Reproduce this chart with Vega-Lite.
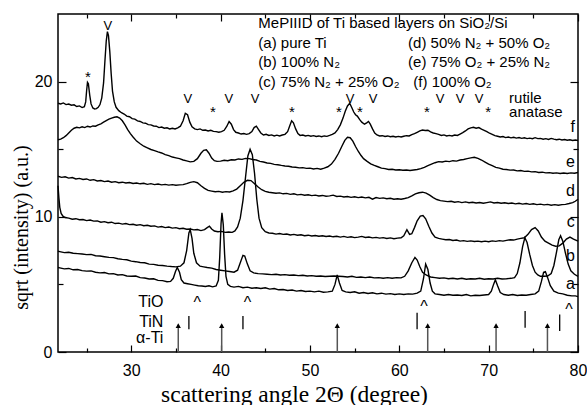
{
"$schema":"https://vega.github.io/schema/vega-lite/v6.json",
"width":520,"height":338,
"autosize":{"type":"none"},
"padding":{"left":58,"top":14,"right":9,"bottom":53},
"config":{"view":{"stroke":"black","strokeWidth":1.5},
"axis":{"tickColor":"black","tickWidth":1.2,"labelColor":"black","labelFont":"Liberation Sans","labelFontSize":16,"titleFont":"Liberation Serif","titleFontSize":21,"titleFontWeight":"normal","titleColor":"black","grid":false,"domain":false,"labelOverlap":false,"labelBound":false,"labelFlush":false}},
"datasets":{
"curves":[
{"c":"a","x":21.8,"y":6.25},{"c":"a","x":22,"y":6.22},{"c":"a","x":22.5,"y":6.15},{"c":"a","x":23,"y":6.18},{"c":"a","x":23.5,"y":6.08},{"c":"a","x":24,"y":6.1},{"c":"a","x":24.5,"y":6.02},{"c":"a","x":25,"y":5.98},{"c":"a","x":25.5,"y":6.0},{"c":"a","x":26,"y":5.9},{"c":"a","x":26.5,"y":5.85},{"c":"a","x":27,"y":5.88},{"c":"a","x":27.5,"y":5.78},{"c":"a","x":28,"y":5.8},{"c":"a","x":28.5,"y":5.7},{"c":"a","x":29,"y":5.72},{"c":"a","x":29.5,"y":5.62},{"c":"a","x":30,"y":5.6},{"c":"a","x":30.5,"y":5.62},{"c":"a","x":31,"y":5.5},{"c":"a","x":31.5,"y":5.47},{"c":"a","x":32,"y":5.4},{"c":"a","x":32.5,"y":5.42},{"c":"a","x":33,"y":5.3},{"c":"a","x":33.5,"y":5.28},{"c":"a","x":34,"y":5.2},{"c":"a","x":34.4,"y":5.22},{"c":"a","x":34.7,"y":5.45},{"c":"a","x":34.95,"y":5.95},{"c":"a","x":35.15,"y":6.25},{"c":"a","x":35.4,"y":5.9},{"c":"a","x":35.6,"y":5.35},{"c":"a","x":35.9,"y":5.1},{"c":"a","x":36.3,"y":5.05},{"c":"a","x":36.7,"y":5.0},{"c":"a","x":37.1,"y":4.95},{"c":"a","x":37.5,"y":4.9},{"c":"a","x":37.9,"y":4.88},{"c":"a","x":38.3,"y":4.85},{"c":"a","x":38.7,"y":4.9},{"c":"a","x":39.1,"y":4.82},{"c":"a","x":39.5,"y":4.88},{"c":"a","x":39.75,"y":5.3},{"c":"a","x":39.9,"y":7.0},{"c":"a","x":40.05,"y":9.5},{"c":"a","x":40.15,"y":10.3},{"c":"a","x":40.3,"y":9.4},{"c":"a","x":40.45,"y":7.2},{"c":"a","x":40.6,"y":5.6},{"c":"a","x":40.8,"y":5.0},{"c":"a","x":41.1,"y":4.85},{"c":"a","x":41.5,"y":4.8},{"c":"a","x":42,"y":4.85},{"c":"a","x":42.5,"y":4.75},{"c":"a","x":43,"y":4.8},{"c":"a","x":43.5,"y":4.72},{"c":"a","x":44,"y":4.75},{"c":"a","x":44.5,"y":4.7},{"c":"a","x":45,"y":4.75},{"c":"a","x":45.5,"y":4.65},{"c":"a","x":46,"y":4.7},{"c":"a","x":46.5,"y":4.6},{"c":"a","x":47,"y":4.62},{"c":"a","x":47.5,"y":4.55},{"c":"a","x":48,"y":4.58},{"c":"a","x":48.5,"y":4.5},{"c":"a","x":49,"y":4.55},{"c":"a","x":49.5,"y":4.48},{"c":"a","x":50,"y":4.5},{"c":"a","x":50.5,"y":4.45},{"c":"a","x":51,"y":4.5},{"c":"a","x":51.5,"y":4.42},{"c":"a","x":52,"y":4.45},{"c":"a","x":52.5,"y":4.5},{"c":"a","x":52.8,"y":5.0},{"c":"a","x":53.05,"y":5.7},{"c":"a","x":53.3,"y":5.1},{"c":"a","x":53.6,"y":4.55},{"c":"a","x":54,"y":4.45},{"c":"a","x":54.5,"y":4.4},{"c":"a","x":55,"y":4.45},{"c":"a","x":55.5,"y":4.35},{"c":"a","x":56,"y":4.4},{"c":"a","x":56.5,"y":4.33},{"c":"a","x":57,"y":4.38},{"c":"a","x":57.5,"y":4.3},{"c":"a","x":58,"y":4.35},{"c":"a","x":58.5,"y":4.28},{"c":"a","x":59,"y":4.32},{"c":"a","x":59.5,"y":4.25},{"c":"a","x":60,"y":4.3},{"c":"a","x":60.5,"y":4.25},{"c":"a","x":61,"y":4.3},{"c":"a","x":61.5,"y":4.28},{"c":"a","x":62,"y":4.35},{"c":"a","x":62.4,"y":4.5},{"c":"a","x":62.7,"y":5.4},{"c":"a","x":62.95,"y":6.5},{"c":"a","x":63.2,"y":6.1},{"c":"a","x":63.45,"y":5.1},{"c":"a","x":63.7,"y":4.5},{"c":"a","x":64,"y":4.3},{"c":"a","x":64.5,"y":4.25},{"c":"a","x":65,"y":4.2},{"c":"a","x":65.5,"y":4.25},{"c":"a","x":66,"y":4.2},{"c":"a","x":66.5,"y":4.22},{"c":"a","x":67,"y":4.18},{"c":"a","x":67.5,"y":4.25},{"c":"a","x":68,"y":4.15},{"c":"a","x":68.5,"y":4.2},{"c":"a","x":69,"y":4.18},{"c":"a","x":69.5,"y":4.22},{"c":"a","x":70,"y":4.25},{"c":"a","x":70.3,"y":4.5},{"c":"a","x":70.55,"y":5.0},{"c":"a","x":70.75,"y":5.35},{"c":"a","x":71.0,"y":4.9},{"c":"a","x":71.3,"y":4.4},{"c":"a","x":71.7,"y":4.25},{"c":"a","x":72.2,"y":4.2},{"c":"a","x":72.7,"y":4.25},{"c":"a","x":73.2,"y":4.18},{"c":"a","x":73.7,"y":4.22},{"c":"a","x":74.2,"y":4.2},{"c":"a","x":74.7,"y":4.25},{"c":"a","x":75.2,"y":4.3},{"c":"a","x":75.6,"y":4.5},{"c":"a","x":75.9,"y":5.2},{"c":"a","x":76.15,"y":5.9},{"c":"a","x":76.35,"y":5.95},{"c":"a","x":76.6,"y":5.5},{"c":"a","x":76.9,"y":4.9},{"c":"a","x":77.3,"y":4.5},{"c":"a","x":77.8,"y":4.35},{"c":"a","x":78.3,"y":4.3},{"c":"a","x":78.8,"y":4.2},{"c":"a","x":79.3,"y":4.15},{"c":"a","x":79.7,"y":4.15},{"c":"a","x":80,"y":4.1},
{"c":"b","x":21.8,"y":7.45},{"c":"b","x":22,"y":7.42},{"c":"b","x":22.5,"y":7.35},{"c":"b","x":23,"y":7.38},{"c":"b","x":23.5,"y":7.3},{"c":"b","x":24,"y":7.28},{"c":"b","x":24.5,"y":7.25},{"c":"b","x":25,"y":7.2},{"c":"b","x":25.5,"y":7.22},{"c":"b","x":26,"y":7.12},{"c":"b","x":26.5,"y":7.1},{"c":"b","x":27,"y":7.05},{"c":"b","x":27.5,"y":7.0},{"c":"b","x":28,"y":6.98},{"c":"b","x":28.5,"y":6.9},{"c":"b","x":29,"y":6.85},{"c":"b","x":29.5,"y":6.82},{"c":"b","x":30,"y":6.72},{"c":"b","x":30.5,"y":6.68},{"c":"b","x":31,"y":6.62},{"c":"b","x":31.5,"y":6.6},{"c":"b","x":32,"y":6.5},{"c":"b","x":32.5,"y":6.48},{"c":"b","x":33,"y":6.42},{"c":"b","x":33.5,"y":6.4},{"c":"b","x":34,"y":6.35},{"c":"b","x":34.5,"y":6.32},{"c":"b","x":35,"y":6.3},{"c":"b","x":35.5,"y":6.35},{"c":"b","x":35.9,"y":6.6},{"c":"b","x":36.2,"y":7.5},{"c":"b","x":36.45,"y":8.8},{"c":"b","x":36.6,"y":9.05},{"c":"b","x":36.8,"y":8.4},{"c":"b","x":37.0,"y":7.3},{"c":"b","x":37.3,"y":6.6},{"c":"b","x":37.7,"y":6.35},{"c":"b","x":38.1,"y":6.3},{"c":"b","x":38.5,"y":6.25},{"c":"b","x":39,"y":6.2},{"c":"b","x":39.5,"y":6.1},{"c":"b","x":40,"y":6.05},{"c":"b","x":40.5,"y":6.0},{"c":"b","x":41,"y":5.95},{"c":"b","x":41.5,"y":5.9},{"c":"b","x":41.9,"y":6.05},{"c":"b","x":42.2,"y":6.6},{"c":"b","x":42.5,"y":7.15},{"c":"b","x":42.7,"y":7.1},{"c":"b","x":43.0,"y":6.5},{"c":"b","x":43.3,"y":6.0},{"c":"b","x":43.7,"y":5.85},{"c":"b","x":44.2,"y":5.8},{"c":"b","x":44.7,"y":5.78},{"c":"b","x":45.2,"y":5.75},{"c":"b","x":45.7,"y":5.72},{"c":"b","x":46.2,"y":5.75},{"c":"b","x":46.7,"y":5.7},{"c":"b","x":47.2,"y":5.72},{"c":"b","x":47.7,"y":5.68},{"c":"b","x":48.2,"y":5.7},{"c":"b","x":48.7,"y":5.65},{"c":"b","x":49.2,"y":5.68},{"c":"b","x":49.7,"y":5.62},{"c":"b","x":50.2,"y":5.65},{"c":"b","x":50.7,"y":5.6},{"c":"b","x":51.2,"y":5.62},{"c":"b","x":51.7,"y":5.58},{"c":"b","x":52.2,"y":5.6},{"c":"b","x":52.7,"y":5.62},{"c":"b","x":53.2,"y":5.6},{"c":"b","x":53.7,"y":5.58},{"c":"b","x":54.2,"y":5.55},{"c":"b","x":54.7,"y":5.6},{"c":"b","x":55.2,"y":5.52},{"c":"b","x":55.7,"y":5.55},{"c":"b","x":56.2,"y":5.5},{"c":"b","x":56.7,"y":5.55},{"c":"b","x":57.2,"y":5.48},{"c":"b","x":57.7,"y":5.5},{"c":"b","x":58.2,"y":5.45},{"c":"b","x":58.7,"y":5.5},{"c":"b","x":59.2,"y":5.45},{"c":"b","x":59.7,"y":5.5},{"c":"b","x":60.2,"y":5.48},{"c":"b","x":60.6,"y":5.6},{"c":"b","x":61.0,"y":6.0},{"c":"b","x":61.4,"y":6.6},{"c":"b","x":61.75,"y":7.0},{"c":"b","x":62.0,"y":6.8},{"c":"b","x":62.3,"y":6.3},{"c":"b","x":62.6,"y":5.9},{"c":"b","x":63.0,"y":5.7},{"c":"b","x":63.5,"y":5.55},{"c":"b","x":64,"y":5.5},{"c":"b","x":64.5,"y":5.45},{"c":"b","x":65,"y":5.48},{"c":"b","x":65.5,"y":5.42},{"c":"b","x":66,"y":5.45},{"c":"b","x":66.5,"y":5.4},{"c":"b","x":67,"y":5.45},{"c":"b","x":67.5,"y":5.38},{"c":"b","x":68,"y":5.42},{"c":"b","x":68.5,"y":5.4},{"c":"b","x":69,"y":5.45},{"c":"b","x":69.5,"y":5.38},{"c":"b","x":70,"y":5.42},{"c":"b","x":70.5,"y":5.4},{"c":"b","x":71,"y":5.45},{"c":"b","x":71.5,"y":5.4},{"c":"b","x":72,"y":5.42},{"c":"b","x":72.5,"y":5.45},{"c":"b","x":72.9,"y":5.5},{"c":"b","x":73.2,"y":5.8},{"c":"b","x":73.5,"y":6.6},{"c":"b","x":73.8,"y":7.8},{"c":"b","x":74.05,"y":8.45},{"c":"b","x":74.3,"y":8.1},{"c":"b","x":74.6,"y":7.2},{"c":"b","x":74.9,"y":6.4},{"c":"b","x":75.2,"y":5.9},{"c":"b","x":75.5,"y":5.7},{"c":"b","x":75.8,"y":5.6},{"c":"b","x":76.2,"y":5.6},{"c":"b","x":76.6,"y":5.62},{"c":"b","x":77.0,"y":5.8},{"c":"b","x":77.3,"y":6.4},{"c":"b","x":77.6,"y":7.4},{"c":"b","x":77.85,"y":8.3},{"c":"b","x":78.05,"y":8.6},{"c":"b","x":78.3,"y":8.2},{"c":"b","x":78.6,"y":7.3},{"c":"b","x":78.9,"y":6.5},{"c":"b","x":79.2,"y":6.0},{"c":"b","x":79.6,"y":5.75},{"c":"b","x":80,"y":5.6},
{"c":"c","x":21.8,"y":12.3},{"c":"c","x":21.9,"y":11.4},{"c":"c","x":22.0,"y":10.7},{"c":"c","x":22.15,"y":10.25},{"c":"c","x":22.35,"y":10.05},{"c":"c","x":22.6,"y":9.95},{"c":"c","x":23.0,"y":9.9},{"c":"c","x":23.4,"y":9.82},{"c":"c","x":23.8,"y":9.86},{"c":"c","x":24.2,"y":9.78},{"c":"c","x":24.6,"y":9.8},{"c":"c","x":25.0,"y":9.72},{"c":"c","x":25.4,"y":9.76},{"c":"c","x":25.8,"y":9.68},{"c":"c","x":26.2,"y":9.7},{"c":"c","x":26.6,"y":9.6},{"c":"c","x":27.0,"y":9.64},{"c":"c","x":27.4,"y":9.56},{"c":"c","x":27.8,"y":9.6},{"c":"c","x":28.2,"y":9.5},{"c":"c","x":28.6,"y":9.53},{"c":"c","x":29.0,"y":9.46},{"c":"c","x":29.4,"y":9.5},{"c":"c","x":29.8,"y":9.42},{"c":"c","x":30.2,"y":9.45},{"c":"c","x":30.6,"y":9.38},{"c":"c","x":31.0,"y":9.42},{"c":"c","x":31.4,"y":9.34},{"c":"c","x":31.8,"y":9.37},{"c":"c","x":32.2,"y":9.3},{"c":"c","x":32.6,"y":9.33},{"c":"c","x":33.0,"y":9.24},{"c":"c","x":33.4,"y":9.28},{"c":"c","x":33.8,"y":9.2},{"c":"c","x":34.2,"y":9.24},{"c":"c","x":34.6,"y":9.16},{"c":"c","x":35.0,"y":9.2},{"c":"c","x":35.4,"y":9.12},{"c":"c","x":35.8,"y":9.15},{"c":"c","x":36.2,"y":9.08},{"c":"c","x":36.6,"y":9.1},{"c":"c","x":37.0,"y":9.03},{"c":"c","x":37.4,"y":9.06},{"c":"c","x":37.8,"y":8.98},{"c":"c","x":38.2,"y":9.05},{"c":"c","x":38.5,"y":9.2},{"c":"c","x":38.75,"y":9.3},{"c":"c","x":39.0,"y":9.1},{"c":"c","x":39.3,"y":8.95},{"c":"c","x":39.7,"y":8.9},{"c":"c","x":40.1,"y":8.92},{"c":"c","x":40.5,"y":8.85},{"c":"c","x":40.9,"y":8.88},{"c":"c","x":41.3,"y":8.85},{"c":"c","x":41.6,"y":8.95},{"c":"c","x":41.9,"y":9.25},{"c":"c","x":42.2,"y":9.9},{"c":"c","x":42.5,"y":11.2},{"c":"c","x":42.8,"y":13.0},{"c":"c","x":43.05,"y":14.5},{"c":"c","x":43.3,"y":15.0},{"c":"c","x":43.55,"y":14.6},{"c":"c","x":43.8,"y":13.2},{"c":"c","x":44.05,"y":11.3},{"c":"c","x":44.3,"y":9.9},{"c":"c","x":44.6,"y":9.2},{"c":"c","x":45.0,"y":8.9},{"c":"c","x":45.4,"y":8.8},{"c":"c","x":45.8,"y":8.78},{"c":"c","x":46.2,"y":8.72},{"c":"c","x":46.6,"y":8.76},{"c":"c","x":47.0,"y":8.7},{"c":"c","x":47.4,"y":8.73},{"c":"c","x":47.8,"y":8.66},{"c":"c","x":48.2,"y":8.7},{"c":"c","x":48.6,"y":8.64},{"c":"c","x":49.0,"y":8.67},{"c":"c","x":49.4,"y":8.6},{"c":"c","x":49.8,"y":8.64},{"c":"c","x":50.2,"y":8.58},{"c":"c","x":50.6,"y":8.62},{"c":"c","x":51.0,"y":8.56},{"c":"c","x":51.4,"y":8.6},{"c":"c","x":51.8,"y":8.54},{"c":"c","x":52.2,"y":8.58},{"c":"c","x":52.6,"y":8.52},{"c":"c","x":53.0,"y":8.56},{"c":"c","x":53.4,"y":8.5},{"c":"c","x":53.8,"y":8.55},{"c":"c","x":54.2,"y":8.48},{"c":"c","x":54.6,"y":8.52},{"c":"c","x":55.0,"y":8.46},{"c":"c","x":55.4,"y":8.5},{"c":"c","x":55.8,"y":8.55},{"c":"c","x":56.2,"y":8.47},{"c":"c","x":56.6,"y":8.5},{"c":"c","x":57.0,"y":8.44},{"c":"c","x":57.4,"y":8.48},{"c":"c","x":57.8,"y":8.42},{"c":"c","x":58.2,"y":8.46},{"c":"c","x":58.6,"y":8.4},{"c":"c","x":59.0,"y":8.44},{"c":"c","x":59.4,"y":8.38},{"c":"c","x":59.8,"y":8.42},{"c":"c","x":60.2,"y":8.45},{"c":"c","x":60.5,"y":8.6},{"c":"c","x":60.85,"y":9.05},{"c":"c","x":61.15,"y":8.7},{"c":"c","x":61.4,"y":8.75},{"c":"c","x":61.7,"y":9.2},{"c":"c","x":62.0,"y":9.7},{"c":"c","x":62.35,"y":10.05},{"c":"c","x":62.65,"y":10.1},{"c":"c","x":62.95,"y":9.85},{"c":"c","x":63.3,"y":9.3},{"c":"c","x":63.65,"y":8.8},{"c":"c","x":64.0,"y":8.5},{"c":"c","x":64.4,"y":8.4},{"c":"c","x":64.8,"y":8.35},{"c":"c","x":65.2,"y":8.3},{"c":"c","x":65.6,"y":8.32},{"c":"c","x":66.0,"y":8.25},{"c":"c","x":66.4,"y":8.28},{"c":"c","x":66.8,"y":8.2},{"c":"c","x":67.2,"y":8.24},{"c":"c","x":67.6,"y":8.18},{"c":"c","x":68.0,"y":8.22},{"c":"c","x":68.4,"y":8.17},{"c":"c","x":68.8,"y":8.2},{"c":"c","x":69.2,"y":8.15},{"c":"c","x":69.6,"y":8.2},{"c":"c","x":70.0,"y":8.16},{"c":"c","x":70.4,"y":8.22},{"c":"c","x":70.8,"y":8.18},{"c":"c","x":71.2,"y":8.24},{"c":"c","x":71.6,"y":8.2},{"c":"c","x":72.0,"y":8.26},{"c":"c","x":72.4,"y":8.3},{"c":"c","x":72.8,"y":8.28},{"c":"c","x":73.2,"y":8.35},{"c":"c","x":73.6,"y":8.4},{"c":"c","x":74.0,"y":8.45},{"c":"c","x":74.4,"y":8.7},{"c":"c","x":74.8,"y":9.05},{"c":"c","x":75.2,"y":9.2},{"c":"c","x":75.55,"y":8.95},{"c":"c","x":75.9,"y":8.5},{"c":"c","x":76.3,"y":8.2},{"c":"c","x":76.7,"y":8.05},{"c":"c","x":77.1,"y":7.9},{"c":"c","x":77.5,"y":7.82},{"c":"c","x":77.9,"y":7.85},{"c":"c","x":78.3,"y":8.05},{"c":"c","x":78.7,"y":8.35},{"c":"c","x":79.1,"y":8.5},{"c":"c","x":79.5,"y":8.35},{"c":"c","x":80.0,"y":8.2},
{"c":"d","x":21.8,"y":13.0},{"c":"d","x":22.2,"y":12.92},{"c":"d","x":22.6,"y":12.96},{"c":"d","x":23.0,"y":12.86},{"c":"d","x":23.4,"y":12.9},{"c":"d","x":23.8,"y":12.8},{"c":"d","x":24.2,"y":12.84},{"c":"d","x":24.6,"y":12.76},{"c":"d","x":25.0,"y":12.8},{"c":"d","x":25.4,"y":12.7},{"c":"d","x":25.8,"y":12.75},{"c":"d","x":26.2,"y":12.65},{"c":"d","x":26.6,"y":12.68},{"c":"d","x":27.0,"y":12.6},{"c":"d","x":27.4,"y":12.65},{"c":"d","x":27.8,"y":12.56},{"c":"d","x":28.2,"y":12.6},{"c":"d","x":28.6,"y":12.52},{"c":"d","x":29.0,"y":12.56},{"c":"d","x":29.4,"y":12.5},{"c":"d","x":29.8,"y":12.54},{"c":"d","x":30.2,"y":12.46},{"c":"d","x":30.6,"y":12.5},{"c":"d","x":31.0,"y":12.44},{"c":"d","x":31.4,"y":12.48},{"c":"d","x":31.8,"y":12.4},{"c":"d","x":32.2,"y":12.45},{"c":"d","x":32.6,"y":12.38},{"c":"d","x":33.0,"y":12.42},{"c":"d","x":33.4,"y":12.36},{"c":"d","x":33.8,"y":12.4},{"c":"d","x":34.2,"y":12.34},{"c":"d","x":34.6,"y":12.38},{"c":"d","x":35.0,"y":12.33},{"c":"d","x":35.4,"y":12.36},{"c":"d","x":35.8,"y":12.38},{"c":"d","x":36.2,"y":12.45},{"c":"d","x":36.6,"y":12.55},{"c":"d","x":37.0,"y":12.6},{"c":"d","x":37.4,"y":12.52},{"c":"d","x":37.8,"y":12.3},{"c":"d","x":38.2,"y":12.1},{"c":"d","x":38.6,"y":11.95},{"c":"d","x":39.0,"y":11.9},{"c":"d","x":39.4,"y":11.85},{"c":"d","x":39.8,"y":11.88},{"c":"d","x":40.2,"y":11.82},{"c":"d","x":40.6,"y":11.86},{"c":"d","x":41.0,"y":11.84},{"c":"d","x":41.4,"y":11.92},{"c":"d","x":41.8,"y":12.05},{"c":"d","x":42.2,"y":12.3},{"c":"d","x":42.6,"y":12.55},{"c":"d","x":43.0,"y":12.7},{"c":"d","x":43.4,"y":12.68},{"c":"d","x":43.8,"y":12.45},{"c":"d","x":44.2,"y":12.2},{"c":"d","x":44.6,"y":12.0},{"c":"d","x":45.0,"y":11.88},{"c":"d","x":45.4,"y":11.82},{"c":"d","x":45.8,"y":11.78},{"c":"d","x":46.2,"y":11.74},{"c":"d","x":46.6,"y":11.77},{"c":"d","x":47.0,"y":11.7},{"c":"d","x":47.4,"y":11.73},{"c":"d","x":47.8,"y":11.66},{"c":"d","x":48.2,"y":11.7},{"c":"d","x":48.6,"y":11.62},{"c":"d","x":49.0,"y":11.66},{"c":"d","x":49.4,"y":11.6},{"c":"d","x":49.8,"y":11.63},{"c":"d","x":50.2,"y":11.57},{"c":"d","x":50.6,"y":11.6},{"c":"d","x":51.0,"y":11.54},{"c":"d","x":51.4,"y":11.58},{"c":"d","x":51.8,"y":11.52},{"c":"d","x":52.2,"y":11.55},{"c":"d","x":52.6,"y":11.6},{"c":"d","x":53.0,"y":11.5},{"c":"d","x":53.4,"y":11.53},{"c":"d","x":53.8,"y":11.47},{"c":"d","x":54.2,"y":11.5},{"c":"d","x":54.6,"y":11.44},{"c":"d","x":55.0,"y":11.48},{"c":"d","x":55.4,"y":11.42},{"c":"d","x":55.8,"y":11.46},{"c":"d","x":56.2,"y":11.4},{"c":"d","x":56.6,"y":11.44},{"c":"d","x":57.0,"y":11.3},{"c":"d","x":57.4,"y":11.42},{"c":"d","x":57.8,"y":11.36},{"c":"d","x":58.2,"y":11.4},{"c":"d","x":58.6,"y":11.34},{"c":"d","x":59.0,"y":11.37},{"c":"d","x":59.4,"y":11.3},{"c":"d","x":59.8,"y":11.34},{"c":"d","x":60.2,"y":11.3},{"c":"d","x":60.6,"y":11.35},{"c":"d","x":61.0,"y":11.42},{"c":"d","x":61.4,"y":11.55},{"c":"d","x":61.8,"y":11.7},{"c":"d","x":62.2,"y":11.78},{"c":"d","x":62.6,"y":11.82},{"c":"d","x":63.0,"y":11.75},{"c":"d","x":63.4,"y":11.6},{"c":"d","x":63.8,"y":11.42},{"c":"d","x":64.2,"y":11.28},{"c":"d","x":64.6,"y":11.2},{"c":"d","x":65.0,"y":11.16},{"c":"d","x":65.4,"y":11.12},{"c":"d","x":65.8,"y":11.15},{"c":"d","x":66.2,"y":11.08},{"c":"d","x":66.6,"y":11.12},{"c":"d","x":67.0,"y":11.05},{"c":"d","x":67.4,"y":11.1},{"c":"d","x":67.8,"y":11.04},{"c":"d","x":68.2,"y":11.08},{"c":"d","x":68.6,"y":11.02},{"c":"d","x":69.0,"y":11.06},{"c":"d","x":69.4,"y":11.0},{"c":"d","x":69.8,"y":11.05},{"c":"d","x":70.2,"y":11.1},{"c":"d","x":70.6,"y":11.02},{"c":"d","x":71.0,"y":11.06},{"c":"d","x":71.4,"y":11.0},{"c":"d","x":71.8,"y":11.04},{"c":"d","x":72.2,"y":10.98},{"c":"d","x":72.6,"y":11.02},{"c":"d","x":73.0,"y":10.96},{"c":"d","x":73.4,"y":11.0},{"c":"d","x":73.8,"y":10.94},{"c":"d","x":74.2,"y":10.98},{"c":"d","x":74.6,"y":10.92},{"c":"d","x":75.0,"y":10.96},{"c":"d","x":75.4,"y":10.9},{"c":"d","x":75.8,"y":10.94},{"c":"d","x":76.2,"y":10.88},{"c":"d","x":76.6,"y":10.92},{"c":"d","x":77.0,"y":10.86},{"c":"d","x":77.4,"y":10.9},{"c":"d","x":77.8,"y":10.85},{"c":"d","x":78.2,"y":10.9},{"c":"d","x":78.6,"y":10.92},{"c":"d","x":79.0,"y":10.98},{"c":"d","x":79.4,"y":11.05},{"c":"d","x":79.7,"y":11.15},{"c":"d","x":80.0,"y":11.3},
{"c":"e","x":21.8,"y":15.7},{"c":"e","x":22.1,"y":15.75},{"c":"e","x":22.4,"y":15.85},{"c":"e","x":22.7,"y":16.0},{"c":"e","x":23.0,"y":16.2},{"c":"e","x":23.3,"y":16.4},{"c":"e","x":23.6,"y":16.55},{"c":"e","x":23.9,"y":16.62},{"c":"e","x":24.2,"y":16.58},{"c":"e","x":24.5,"y":16.66},{"c":"e","x":24.8,"y":16.6},{"c":"e","x":25.1,"y":16.7},{"c":"e","x":25.4,"y":16.64},{"c":"e","x":25.7,"y":16.72},{"c":"e","x":26.0,"y":16.7},{"c":"e","x":26.3,"y":16.8},{"c":"e","x":26.6,"y":16.88},{"c":"e","x":26.9,"y":17.0},{"c":"e","x":27.2,"y":17.12},{"c":"e","x":27.5,"y":17.22},{"c":"e","x":27.8,"y":17.3},{"c":"e","x":28.1,"y":17.36},{"c":"e","x":28.4,"y":17.4},{"c":"e","x":28.7,"y":17.3},{"c":"e","x":29.0,"y":17.1},{"c":"e","x":29.3,"y":16.8},{"c":"e","x":29.6,"y":16.45},{"c":"e","x":29.9,"y":16.15},{"c":"e","x":30.2,"y":15.9},{"c":"e","x":30.6,"y":15.6},{"c":"e","x":31.0,"y":15.4},{"c":"e","x":31.4,"y":15.22},{"c":"e","x":31.8,"y":15.1},{"c":"e","x":32.2,"y":14.98},{"c":"e","x":32.6,"y":14.9},{"c":"e","x":33.0,"y":14.8},{"c":"e","x":33.4,"y":14.72},{"c":"e","x":33.8,"y":14.6},{"c":"e","x":34.2,"y":14.52},{"c":"e","x":34.6,"y":14.42},{"c":"e","x":35.0,"y":14.36},{"c":"e","x":35.4,"y":14.3},{"c":"e","x":35.8,"y":14.2},{"c":"e","x":36.2,"y":14.14},{"c":"e","x":36.6,"y":14.06},{"c":"e","x":37.0,"y":14.1},{"c":"e","x":37.4,"y":14.3},{"c":"e","x":37.8,"y":14.7},{"c":"e","x":38.1,"y":14.92},{"c":"e","x":38.4,"y":14.95},{"c":"e","x":38.7,"y":14.7},{"c":"e","x":39.0,"y":14.35},{"c":"e","x":39.3,"y":14.15},{"c":"e","x":39.6,"y":14.1},{"c":"e","x":40.0,"y":14.12},{"c":"e","x":40.4,"y":14.18},{"c":"e","x":40.8,"y":14.15},{"c":"e","x":41.2,"y":14.22},{"c":"e","x":41.6,"y":14.2},{"c":"e","x":42.0,"y":14.28},{"c":"e","x":42.4,"y":14.25},{"c":"e","x":42.8,"y":14.32},{"c":"e","x":43.2,"y":14.3},{"c":"e","x":43.6,"y":14.24},{"c":"e","x":44.0,"y":14.2},{"c":"e","x":44.4,"y":14.1},{"c":"e","x":44.8,"y":14.05},{"c":"e","x":45.2,"y":13.98},{"c":"e","x":45.6,"y":13.95},{"c":"e","x":46.0,"y":13.88},{"c":"e","x":46.4,"y":13.85},{"c":"e","x":46.8,"y":13.8},{"c":"e","x":47.2,"y":13.76},{"c":"e","x":47.6,"y":13.74},{"c":"e","x":48.0,"y":13.68},{"c":"e","x":48.4,"y":13.66},{"c":"e","x":48.8,"y":13.62},{"c":"e","x":49.2,"y":13.64},{"c":"e","x":49.6,"y":13.58},{"c":"e","x":50.0,"y":13.6},{"c":"e","x":50.4,"y":13.54},{"c":"e","x":50.8,"y":13.58},{"c":"e","x":51.2,"y":13.52},{"c":"e","x":51.6,"y":13.6},{"c":"e","x":52.0,"y":13.7},{"c":"e","x":52.4,"y":13.9},{"c":"e","x":52.8,"y":14.25},{"c":"e","x":53.2,"y":14.7},{"c":"e","x":53.6,"y":15.25},{"c":"e","x":53.9,"y":15.65},{"c":"e","x":54.2,"y":15.88},{"c":"e","x":54.5,"y":15.85},{"c":"e","x":54.8,"y":15.6},{"c":"e","x":55.1,"y":15.2},{"c":"e","x":55.4,"y":14.85},{"c":"e","x":55.7,"y":14.55},{"c":"e","x":56.0,"y":14.3},{"c":"e","x":56.4,"y":14.1},{"c":"e","x":56.8,"y":13.92},{"c":"e","x":57.2,"y":13.8},{"c":"e","x":57.6,"y":13.7},{"c":"e","x":58.0,"y":13.6},{"c":"e","x":58.4,"y":13.56},{"c":"e","x":58.8,"y":13.5},{"c":"e","x":59.2,"y":13.52},{"c":"e","x":59.6,"y":13.46},{"c":"e","x":60.0,"y":13.48},{"c":"e","x":60.4,"y":13.44},{"c":"e","x":60.8,"y":13.46},{"c":"e","x":61.2,"y":13.42},{"c":"e","x":61.6,"y":13.46},{"c":"e","x":62.0,"y":13.5},{"c":"e","x":62.4,"y":13.56},{"c":"e","x":62.8,"y":13.66},{"c":"e","x":63.2,"y":13.78},{"c":"e","x":63.6,"y":13.9},{"c":"e","x":64.0,"y":14.0},{"c":"e","x":64.4,"y":14.08},{"c":"e","x":64.8,"y":14.05},{"c":"e","x":65.2,"y":14.12},{"c":"e","x":65.6,"y":14.08},{"c":"e","x":66.0,"y":14.15},{"c":"e","x":66.4,"y":14.12},{"c":"e","x":66.8,"y":14.2},{"c":"e","x":67.2,"y":14.24},{"c":"e","x":67.6,"y":14.3},{"c":"e","x":68.0,"y":14.36},{"c":"e","x":68.4,"y":14.4},{"c":"e","x":68.8,"y":14.32},{"c":"e","x":69.2,"y":14.2},{"c":"e","x":69.6,"y":14.05},{"c":"e","x":70.0,"y":13.9},{"c":"e","x":70.4,"y":13.78},{"c":"e","x":70.8,"y":13.66},{"c":"e","x":71.2,"y":13.6},{"c":"e","x":71.6,"y":13.52},{"c":"e","x":72.0,"y":13.5},{"c":"e","x":72.4,"y":13.45},{"c":"e","x":72.8,"y":13.46},{"c":"e","x":73.2,"y":13.4},{"c":"e","x":73.6,"y":13.42},{"c":"e","x":74.0,"y":13.36},{"c":"e","x":74.4,"y":13.38},{"c":"e","x":74.8,"y":13.32},{"c":"e","x":75.2,"y":13.34},{"c":"e","x":75.6,"y":13.28},{"c":"e","x":76.0,"y":13.3},{"c":"e","x":76.4,"y":13.25},{"c":"e","x":76.8,"y":13.27},{"c":"e","x":77.2,"y":13.22},{"c":"e","x":77.6,"y":13.25},{"c":"e","x":78.0,"y":13.2},{"c":"e","x":78.4,"y":13.24},{"c":"e","x":78.8,"y":13.2},{"c":"e","x":79.2,"y":13.25},{"c":"e","x":79.6,"y":13.22},{"c":"e","x":80.0,"y":13.28},
{"c":"f","x":21.8,"y":18.4},{"c":"f","x":22.1,"y":18.35},{"c":"f","x":22.4,"y":18.42},{"c":"f","x":22.7,"y":18.3},{"c":"f","x":23.0,"y":18.34},{"c":"f","x":23.3,"y":18.25},{"c":"f","x":23.6,"y":18.28},{"c":"f","x":23.9,"y":18.16},{"c":"f","x":24.2,"y":18.2},{"c":"f","x":24.5,"y":18.08},{"c":"f","x":24.75,"y":18.15},{"c":"f","x":24.9,"y":18.5},{"c":"f","x":25.0,"y":19.3},{"c":"f","x":25.1,"y":19.95},{"c":"f","x":25.2,"y":19.85},{"c":"f","x":25.35,"y":19.0},{"c":"f","x":25.5,"y":18.35},{"c":"f","x":25.7,"y":18.05},{"c":"f","x":25.9,"y":17.98},{"c":"f","x":26.1,"y":18.0},{"c":"f","x":26.3,"y":18.1},{"c":"f","x":26.5,"y":18.3},{"c":"f","x":26.7,"y":18.8},{"c":"f","x":26.9,"y":19.9},{"c":"f","x":27.05,"y":21.5},{"c":"f","x":27.2,"y":23.0},{"c":"f","x":27.33,"y":23.7},{"c":"f","x":27.45,"y":23.4},{"c":"f","x":27.6,"y":22.2},{"c":"f","x":27.75,"y":20.6},{"c":"f","x":27.9,"y":19.3},{"c":"f","x":28.1,"y":18.5},{"c":"f","x":28.3,"y":18.1},{"c":"f","x":28.6,"y":17.85},{"c":"f","x":28.9,"y":17.7},{"c":"f","x":29.2,"y":17.6},{"c":"f","x":29.5,"y":17.45},{"c":"f","x":29.8,"y":17.4},{"c":"f","x":30.1,"y":17.26},{"c":"f","x":30.4,"y":17.22},{"c":"f","x":30.7,"y":17.1},{"c":"f","x":31.0,"y":17.05},{"c":"f","x":31.3,"y":16.95},{"c":"f","x":31.6,"y":16.92},{"c":"f","x":31.9,"y":16.82},{"c":"f","x":32.2,"y":16.8},{"c":"f","x":32.5,"y":16.72},{"c":"f","x":32.8,"y":16.7},{"c":"f","x":33.1,"y":16.6},{"c":"f","x":33.4,"y":16.64},{"c":"f","x":33.7,"y":16.55},{"c":"f","x":34.0,"y":16.58},{"c":"f","x":34.3,"y":16.5},{"c":"f","x":34.6,"y":16.55},{"c":"f","x":34.9,"y":16.5},{"c":"f","x":35.2,"y":16.58},{"c":"f","x":35.5,"y":16.7},{"c":"f","x":35.8,"y":17.1},{"c":"f","x":36.05,"y":17.65},{"c":"f","x":36.3,"y":17.55},{"c":"f","x":36.55,"y":17.0},{"c":"f","x":36.8,"y":16.65},{"c":"f","x":37.1,"y":16.5},{"c":"f","x":37.4,"y":16.45},{"c":"f","x":37.7,"y":16.5},{"c":"f","x":38.0,"y":16.4},{"c":"f","x":38.3,"y":16.42},{"c":"f","x":38.6,"y":16.35},{"c":"f","x":38.9,"y":16.4},{"c":"f","x":39.2,"y":16.32},{"c":"f","x":39.5,"y":16.3},{"c":"f","x":39.8,"y":16.26},{"c":"f","x":40.1,"y":16.3},{"c":"f","x":40.4,"y":16.4},{"c":"f","x":40.7,"y":16.7},{"c":"f","x":40.95,"y":17.05},{"c":"f","x":41.2,"y":16.85},{"c":"f","x":41.45,"y":16.45},{"c":"f","x":41.7,"y":16.25},{"c":"f","x":42.0,"y":16.2},{"c":"f","x":42.3,"y":16.12},{"c":"f","x":42.6,"y":16.16},{"c":"f","x":42.9,"y":16.1},{"c":"f","x":43.2,"y":16.15},{"c":"f","x":43.5,"y":16.3},{"c":"f","x":43.75,"y":16.6},{"c":"f","x":44.0,"y":16.7},{"c":"f","x":44.25,"y":16.45},{"c":"f","x":44.5,"y":16.2},{"c":"f","x":44.8,"y":16.05},{"c":"f","x":45.1,"y":16.1},{"c":"f","x":45.4,"y":16.02},{"c":"f","x":45.7,"y":16.06},{"c":"f","x":46.0,"y":15.98},{"c":"f","x":46.3,"y":16.04},{"c":"f","x":46.6,"y":15.98},{"c":"f","x":46.9,"y":16.05},{"c":"f","x":47.2,"y":16.1},{"c":"f","x":47.5,"y":16.3},{"c":"f","x":47.75,"y":16.75},{"c":"f","x":47.95,"y":17.1},{"c":"f","x":48.15,"y":16.95},{"c":"f","x":48.4,"y":16.5},{"c":"f","x":48.65,"y":16.15},{"c":"f","x":48.9,"y":16.02},{"c":"f","x":49.2,"y":16.05},{"c":"f","x":49.5,"y":15.98},{"c":"f","x":49.8,"y":16.02},{"c":"f","x":50.1,"y":15.96},{"c":"f","x":50.4,"y":16.0},{"c":"f","x":50.7,"y":15.94},{"c":"f","x":51.0,"y":15.98},{"c":"f","x":51.3,"y":15.92},{"c":"f","x":51.6,"y":15.98},{"c":"f","x":51.9,"y":15.95},{"c":"f","x":52.2,"y":16.02},{"c":"f","x":52.5,"y":16.1},{"c":"f","x":52.8,"y":16.2},{"c":"f","x":53.1,"y":16.45},{"c":"f","x":53.4,"y":16.8},{"c":"f","x":53.7,"y":17.3},{"c":"f","x":53.95,"y":17.8},{"c":"f","x":54.2,"y":18.2},{"c":"f","x":54.45,"y":18.4},{"c":"f","x":54.7,"y":18.05},{"c":"f","x":54.9,"y":17.75},{"c":"f","x":55.1,"y":17.55},{"c":"f","x":55.3,"y":17.45},{"c":"f","x":55.55,"y":17.2},{"c":"f","x":55.8,"y":17.0},{"c":"f","x":56.1,"y":16.85},{"c":"f","x":56.35,"y":16.95},{"c":"f","x":56.55,"y":17.05},{"c":"f","x":56.75,"y":16.85},{"c":"f","x":57.0,"y":16.5},{"c":"f","x":57.25,"y":16.2},{"c":"f","x":57.5,"y":16.05},{"c":"f","x":57.8,"y":15.98},{"c":"f","x":58.1,"y":16.0},{"c":"f","x":58.4,"y":15.94},{"c":"f","x":58.7,"y":15.98},{"c":"f","x":59.0,"y":15.92},{"c":"f","x":59.3,"y":15.96},{"c":"f","x":59.6,"y":15.9},{"c":"f","x":59.9,"y":15.95},{"c":"f","x":60.2,"y":15.9},{"c":"f","x":60.5,"y":15.96},{"c":"f","x":60.8,"y":16.0},{"c":"f","x":61.1,"y":15.98},{"c":"f","x":61.4,"y":16.08},{"c":"f","x":61.7,"y":16.15},{"c":"f","x":62.0,"y":16.25},{"c":"f","x":62.3,"y":16.35},{"c":"f","x":62.6,"y":16.42},{"c":"f","x":62.9,"y":16.38},{"c":"f","x":63.2,"y":16.4},{"c":"f","x":63.5,"y":16.28},{"c":"f","x":63.8,"y":16.2},{"c":"f","x":64.1,"y":16.15},{"c":"f","x":64.4,"y":16.1},{"c":"f","x":64.7,"y":16.02},{"c":"f","x":65.0,"y":16.06},{"c":"f","x":65.3,"y":15.98},{"c":"f","x":65.6,"y":16.02},{"c":"f","x":65.9,"y":15.98},{"c":"f","x":66.2,"y":16.05},{"c":"f","x":66.5,"y":16.02},{"c":"f","x":66.8,"y":16.12},{"c":"f","x":67.1,"y":16.22},{"c":"f","x":67.4,"y":16.35},{"c":"f","x":67.7,"y":16.5},{"c":"f","x":68.0,"y":16.58},{"c":"f","x":68.3,"y":16.62},{"c":"f","x":68.6,"y":16.55},{"c":"f","x":68.9,"y":16.6},{"c":"f","x":69.2,"y":16.48},{"c":"f","x":69.5,"y":16.4},{"c":"f","x":69.8,"y":16.3},{"c":"f","x":70.1,"y":16.18},{"c":"f","x":70.4,"y":16.1},{"c":"f","x":70.7,"y":16.0},{"c":"f","x":71.0,"y":15.96},{"c":"f","x":71.3,"y":15.9},{"c":"f","x":71.6,"y":15.94},{"c":"f","x":71.9,"y":15.86},{"c":"f","x":72.2,"y":15.9},{"c":"f","x":72.5,"y":15.84},{"c":"f","x":72.8,"y":15.88},{"c":"f","x":73.1,"y":15.82},{"c":"f","x":73.4,"y":15.86},{"c":"f","x":73.7,"y":15.8},{"c":"f","x":74.0,"y":15.84},{"c":"f","x":74.3,"y":15.78},{"c":"f","x":74.6,"y":15.82},{"c":"f","x":74.9,"y":15.78},{"c":"f","x":75.2,"y":15.85},{"c":"f","x":75.5,"y":15.78},{"c":"f","x":75.8,"y":15.8},{"c":"f","x":76.1,"y":15.74},{"c":"f","x":76.4,"y":15.78},{"c":"f","x":76.7,"y":15.72},{"c":"f","x":77.0,"y":15.8},{"c":"f","x":77.3,"y":15.74},{"c":"f","x":77.6,"y":15.7},{"c":"f","x":77.9,"y":15.74},{"c":"f","x":78.2,"y":15.68},{"c":"f","x":78.5,"y":15.72},{"c":"f","x":78.8,"y":15.66},{"c":"f","x":79.1,"y":15.7},{"c":"f","x":79.4,"y":15.65},{"c":"f","x":79.7,"y":15.68},{"c":"f","x":80.0,"y":15.64}
],
"info":[
{"t":"MePIIID of Ti based layers on SiO₂/Si","x":44.22,"y":23.96},
{"t":"(a) pure Ti","x":44.22,"y":22.49},
{"t":"(b) 100% N₂","x":44.22,"y":21.05},
{"t":"(c) 75% N₂ + 25% O₂","x":44.22,"y":19.61},
{"t":"(d) 50% N₂ + 50% O₂","x":60.98,"y":22.49},
{"t":"(e) 75% O₂ + 25% N₂","x":60.98,"y":21.05},
{"t":"(f) 100% O₂","x":61.57,"y":19.61},
{"t":"rutile","x":72.29,"y":18.45},
{"t":"anatase","x":72.29,"y":17.36}
],
"letters":[
{"t":"f","x":79.65,"y":16.29},{"t":"e","x":79.65,"y":13.7},{"t":"d","x":79.65,"y":11.57},{"t":"c","x":79.65,"y":9.28},{"t":"b","x":79.65,"y":6.7},{"t":"a","x":79.65,"y":4.63}
],
"rutile":[
{"x":27.38,"y":23.8},{"x":36.34,"y":18.39},{"x":40.93,"y":18.39},{"x":43.85,"y":18.39},{"x":54.48,"y":18.39},{"x":57.06,"y":18.39},{"x":64.56,"y":18.39},{"x":66.8,"y":18.39},{"x":68.93,"y":18.39}
],
"anatase":[
{"x":25.14,"y":19.98},{"x":39.14,"y":17.39},{"x":47.99,"y":17.39},{"x":53.25,"y":17.39},{"x":55.6,"y":17.39},{"x":63.1,"y":17.39},{"x":69.94,"y":17.39}
],
"phases":[
{"t":"TiO","x":33.6,"y":3.33},{"t":"TiN","x":33.6,"y":1.87},{"t":"α-Ti","x":33.6,"y":0.64}
],
"tio":[
{"x":37.39,"y":3.27},{"x":43.0,"y":3.27},{"x":62.77,"y":2.95},{"x":79.0,"y":2.75}
],
"tin":[
{"x":36.45,"lo":1.68,"hi":2.66},{"x":42.5,"lo":1.68,"hi":2.66},{"x":61.99,"lo":1.68,"hi":2.9},{"x":74.08,"lo":1.8,"hi":3.03},{"x":77.95,"lo":1.55,"hi":2.78}
],
"ti":[
{"x":35.26,"lo":0,"hi":1.95},{"x":40.12,"lo":0,"hi":1.95},{"x":53.06,"lo":0,"hi":1.95},{"x":63.18,"lo":0,"hi":1.95},{"x":70.83,"lo":0,"hi":1.95},{"x":76.58,"lo":0,"hi":1.95}
]
},
"layer":[
{"data":{"name":"curves"},
"mark":{"type":"line","color":"black","strokeWidth":1.4},
"encoding":{
"x":{"field":"x","type":"quantitative","scale":{"domain":[21.8,80],"nice":false,"zero":false},
"axis":{"orient":"bottom","values":[25,30,35,40,45,50,55,60,65,70,75,80],"labelExpr":"datum.value % 10 === 0 ? datum.label : ''","tickSize":{"condition":{"test":"datum.value % 10 === 0","value":-7},"value":-4},"labelPadding":17,"title":"scattering angle 2Θ (degree)","titleFont":"Liberation Serif","titleFontSize":23.5,"titleX":236,"titleY":49,"titleBaseline":"alphabetic","titleAlign":"center","titleAnchor":null}},
"y":{"field":"y","type":"quantitative","scale":{"domain":[0,25],"nice":false,"zero":false},
"axis":{"orient":"left","values":[0,5,10,15,20],"labelExpr":"datum.value % 10 === 0 ? datum.label : ''","tickSize":{"condition":{"test":"datum.value % 10 === 0","value":-8},"value":-5},"labelPadding":14,"title":"sqrt (intensity) (a.u.)","titleFont":"Liberation Serif","titleFontSize":20,"titleX":-31,"titleY":213,"titleAngle":-90,"titleBaseline":"alphabetic","titleAlign":"center","titleAnchor":null}},
"detail":{"field":"c"}}},
{"data":{"name":"info"},
"mark":{"type":"text","font":"Liberation Sans","fontSize":15,"color":"black","align":"left","baseline":"alphabetic"},
"encoding":{
"x":{"field":"x","type":"quantitative","scale":{"domain":[21.8,80],"nice":false,"zero":false},
"axis":{"orient":"top","values":[25,30,35,40,45,50,55,60,65,70,75,80],"labels":false,"tickSize":{"condition":{"test":"datum.value % 10 === 0","value":-7},"value":-4},"title":null}},
"y":{"field":"y","type":"quantitative","scale":{"domain":[0,25],"nice":false,"zero":false},
"axis":{"orient":"right","values":[0,5,10,15,20],"labels":false,"tickSize":{"condition":{"test":"datum.value % 10 === 0","value":-8},"value":-5},"title":null}},
"text":{"field":"t"}}},
{"data":{"name":"letters"},
"mark":{"type":"text","font":"Liberation Sans","fontSize":16,"color":"black","align":"right","baseline":"alphabetic"},
"encoding":{"x":{"field":"x","type":"quantitative","axis":null},"y":{"field":"y","type":"quantitative","axis":null},"text":{"field":"t"}}},
{"data":{"name":"rutile"},
"mark":{"type":"text","text":"V","font":"Liberation Sans","fontSize":13,"color":"black","align":"center","baseline":"alphabetic"},
"encoding":{"x":{"field":"x","type":"quantitative","axis":null},"y":{"field":"y","type":"quantitative","axis":null}}},
{"data":{"name":"anatase"},
"mark":{"type":"text","text":"*","font":"Liberation Sans","fontSize":15,"color":"black","align":"center","baseline":"alphabetic"},
"encoding":{"x":{"field":"x","type":"quantitative","axis":null},"y":{"field":"y","type":"quantitative","axis":null}}},
{"data":{"name":"phases"},
"mark":{"type":"text","font":"Liberation Sans","fontSize":16,"color":"black","align":"right","baseline":"alphabetic"},
"encoding":{"x":{"field":"x","type":"quantitative","axis":null},"y":{"field":"y","type":"quantitative","axis":null},"text":{"field":"t"}}},
{"data":{"name":"tio"},
"mark":{"type":"text","text":"^","font":"Liberation Sans","fontSize":16,"color":"black","align":"center","baseline":"alphabetic"},
"encoding":{"x":{"field":"x","type":"quantitative","axis":null},"y":{"field":"y","type":"quantitative","axis":null}}},
{"data":{"name":"tin"},
"mark":{"type":"rule","color":"black","strokeWidth":1.3},
"encoding":{"x":{"field":"x","type":"quantitative","axis":null},"y":{"field":"lo","type":"quantitative","axis":null},"y2":{"field":"hi"}}},
{"data":{"name":"ti"},
"mark":{"type":"rule","color":"#555555","strokeWidth":1.5},
"encoding":{"x":{"field":"x","type":"quantitative","axis":null},"y":{"field":"lo","type":"quantitative","axis":null},"y2":{"field":"hi"}}},
{"data":{"name":"ti"},
"mark":{"type":"point","shape":"triangle-up","filled":true,"color":"black","size":28,"opacity":1},
"encoding":{"x":{"field":"x","type":"quantitative","axis":null},"y":{"field":"hi","type":"quantitative","axis":null}}}
],
"resolve":{"axis":{"x":"independent","y":"independent"}}
}
